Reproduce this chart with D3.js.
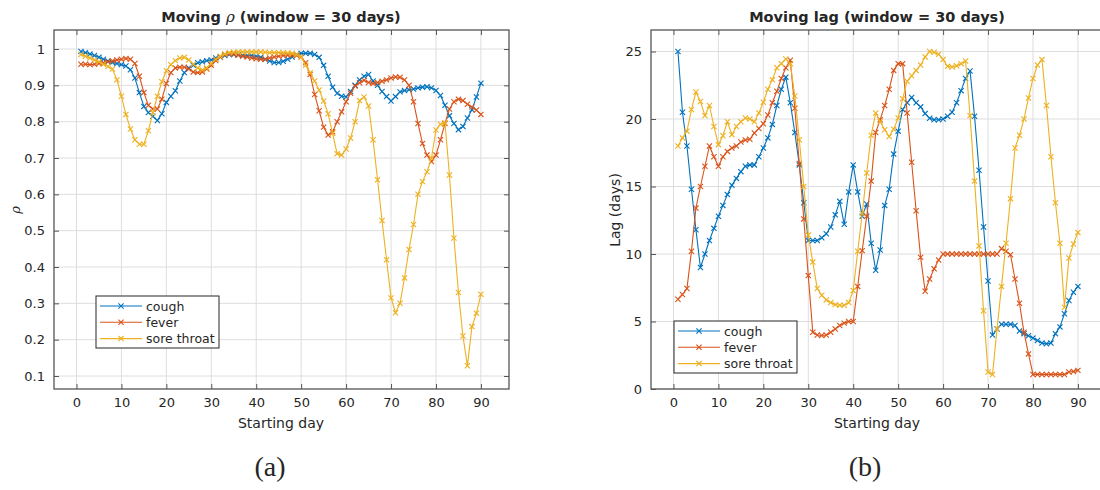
<!DOCTYPE html>
<html>
<head>
<meta charset="utf-8">
<script src="https://cdn.jsdelivr.net/npm/d3@7/dist/d3.min.js"></script>
<style>
  html, body { margin: 0; padding: 0; background: #ffffff; }
  svg { display: block; }
  text { font-family: "DejaVu Sans", sans-serif; fill: #262626; }
</style>
</head>
<body>
<svg id="chart" width="1100" height="490"></svg>
<script>
// ---------------- DATA ----------------
const days = [1,2,3,4,5,6,7,8,9,10,11,12,13,14,15,16,17,18,19,20,21,22,23,24,25,26,27,28,29,30,
  31,32,33,34,35,36,37,38,39,40,41,42,43,44,45,46,47,48,49,50,51,52,53,54,55,56,57,58,59,60,
  61,62,63,64,65,66,67,68,69,70,71,72,73,74,75,76,77,78,79,80,81,82,83,84,85,86,87,88,89,90];

const seriesNames = ["cough", "fever", "sore throat"];

// Moving rho (window = 30 days)
const rhoCough = [0.993,0.990,0.986,0.982,0.977,0.972,0.967,0.963,0.960,0.957,
  0.953,0.943,0.920,0.880,0.842,0.825,0.815,0.803,0.822,0.853,
  0.870,0.885,0.912,0.935,0.948,0.955,0.962,0.965,0.968,0.970,
  0.975,0.978,0.982,0.985,0.985,0.984,0.983,0.982,0.982,0.980,
  0.977,0.972,0.967,0.963,0.963,0.966,0.972,0.978,0.985,0.988,
  0.988,0.988,0.985,0.977,0.955,0.925,0.895,0.878,0.870,0.868,
  0.883,0.900,0.915,0.925,0.930,0.912,0.900,0.883,0.869,0.857,
  0.869,0.882,0.886,0.888,0.890,0.893,0.895,0.896,0.893,0.886,
  0.872,0.845,0.816,0.795,0.778,0.787,0.810,0.833,0.868,0.906];
const rhoFever = [0.958,0.958,0.957,0.958,0.960,0.962,0.965,0.967,0.970,0.972,
  0.974,0.972,0.960,0.925,0.880,0.845,0.835,0.835,0.862,0.905,
  0.935,0.948,0.950,0.950,0.945,0.937,0.935,0.937,0.945,0.955,
  0.968,0.978,0.985,0.987,0.986,0.983,0.980,0.978,0.975,0.973,
  0.972,0.972,0.975,0.978,0.980,0.982,0.983,0.983,0.982,0.978,
  0.962,0.930,0.875,0.830,0.785,0.763,0.772,0.800,0.827,0.855,
  0.878,0.898,0.907,0.914,0.908,0.905,0.908,0.911,0.915,0.920,
  0.923,0.922,0.915,0.900,0.855,0.795,0.740,0.708,0.690,0.708,
  0.750,0.795,0.835,0.855,0.862,0.858,0.848,0.840,0.832,0.820];
const rhoSore = [0.985,0.980,0.975,0.970,0.965,0.958,0.952,0.945,0.915,0.870,
  0.820,0.780,0.750,0.738,0.738,0.775,0.825,0.870,0.910,0.940,
  0.957,0.968,0.975,0.977,0.970,0.958,0.948,0.942,0.948,0.960,
  0.972,0.980,0.986,0.990,0.991,0.992,0.992,0.992,0.992,0.992,
  0.992,0.991,0.990,0.990,0.990,0.990,0.989,0.988,0.985,0.978,
  0.955,0.935,0.912,0.887,0.857,0.822,0.768,0.712,0.708,0.725,
  0.755,0.800,0.858,0.868,0.843,0.750,0.640,0.528,0.420,0.315,
  0.274,0.300,0.370,0.448,0.517,0.600,0.635,0.662,0.700,0.777,
  0.793,0.797,0.653,0.480,0.330,0.210,0.128,0.236,0.273,0.325];

// Moving lag (window = 30 days)
const lagCough = [25.0,20.5,18.0,14.8,11.8,9.0,10.0,11.0,11.9,12.8,
  13.6,14.4,15.1,15.6,16.1,16.5,16.6,16.6,17.2,17.85,
  18.6,19.6,21.0,22.2,23.1,21.2,19.0,16.6,13.8,11.0,
  11.0,11.0,11.2,11.5,12.0,12.9,13.9,12.2,14.6,16.6,
  14.6,12.8,13.7,10.8,8.8,10.3,13.6,14.8,17.4,19.1,
  20.7,21.2,21.6,21.2,20.9,20.4,20.05,19.95,19.95,20.0,
  20.2,20.5,21.2,22.1,23.0,23.55,20.2,16.2,12.0,8.0,
  4.0,4.45,4.8,4.8,4.8,4.7,4.3,4.1,3.95,3.77,
  3.6,3.4,3.35,3.4,4.1,4.6,5.57,6.55,7.17,7.6];
const lagFever = [6.65,7.0,7.44,10.2,13.4,15.0,16.5,18.0,17.2,16.5,
  17.2,17.6,17.85,18.0,18.3,18.45,18.5,18.96,19.3,19.65,
  20.3,21.2,22.05,23.0,23.8,24.35,20.8,16.7,12.6,8.4,
  4.2,4.0,3.96,4.0,4.2,4.45,4.7,4.88,5.0,5.0,
  7.6,10.25,12.8,15.4,19.0,19.95,21.0,22.2,23.6,24.1,
  24.1,20.45,16.8,13.2,9.75,7.24,8.15,8.9,9.56,10.0,
  10.0,10.0,10.0,10.0,10.0,10.0,10.0,10.0,10.0,10.0,
  10.0,10.0,10.4,10.2,9.95,8.15,6.35,4.2,2.6,1.08,
  1.08,1.08,1.08,1.08,1.08,1.08,1.08,1.26,1.3,1.38];
const lagSore = [18.0,18.6,19.1,20.7,22.0,21.3,20.25,21.0,19.45,18.1,
  18.76,19.8,18.84,19.45,19.8,20.07,20.0,19.8,20.45,21.24,
  22.2,22.9,23.8,24.1,24.45,24.1,21.7,18.46,15.0,11.4,
  9.4,7.44,6.95,6.6,6.4,6.25,6.2,6.2,6.4,7.3,
  10.2,13.0,16.0,18.8,20.45,19.8,19.2,18.7,19.25,20.07,
  21.5,22.8,23.2,23.6,24.0,24.6,25.0,24.95,24.8,24.4,
  23.9,23.85,23.95,24.1,24.3,20.25,15.4,10.6,5.8,1.26,
  1.08,4.46,7.6,10.8,14.1,17.85,18.8,20.0,21.56,23.0,
  24.0,24.4,21.0,17.2,13.8,10.8,6.06,9.7,10.74,11.6];

const xTicks = [0,10,20,30,40,50,60,70,80,90];
const rhoTicks = [0.1,0.2,0.3,0.4,0.5,0.6,0.7,0.8,0.9,1];
const rhoTickLabels = ["0.1","0.2","0.3","0.4","0.5","0.6","0.7","0.8","0.9","1"];
const lagTicks = [0,5,10,15,20,25];
const lagTickLabels = ["0","5","10","15","20","25"];

// ---------------- STYLE ----------------
const colors = ["#0072BD", "#D95319", "#EDB120"];
const svg = d3.select("#chart");

function panel(cfg) {
  const g = svg.append("g");
  const x = d3.scaleLinear().domain([-5, 96.25]).range([cfg.left, cfg.left + 455]);
  const y = d3.scaleLinear().domain(cfg.yDomain).range(cfg.yRange);
  const top = 30, bottom = 389, left = cfg.left, right = cfg.left + 455;

  const clipId = "clip" + cfg.id;
  svg.append("clipPath").attr("id", clipId).append("rect")
    .attr("x", left).attr("y", top).attr("width", right - left).attr("height", bottom - top);

  // grid
  const grid = g.append("g").attr("stroke", "#dedede").attr("stroke-width", 1);
  grid.selectAll(".vg").data(xTicks).join("line")
    .attr("x1", d => x(d)).attr("x2", d => x(d)).attr("y1", top).attr("y2", bottom);
  grid.selectAll(".hg").data(cfg.yTicks).join("line")
    .attr("y1", d => y(d)).attr("y2", d => y(d)).attr("x1", left).attr("x2", right);

  // series
  const series = [cfg.data[0], cfg.data[1], cfg.data[2]];
  const line = d3.line().x((d, i) => x(days[i])).y(d => y(d));
  const plot = g.append("g").attr("clip-path", `url(#${clipId})`);
  series.forEach((vals, si) => {
    const sg = plot.append("g");
    sg.append("path").datum(vals).attr("d", line)
      .attr("fill", "none").attr("stroke", colors[si]).attr("stroke-width", 1.1)
      .attr("stroke-linejoin", "round");
    sg.selectAll("path.m").data(vals).join("path").attr("class", "m")
      .attr("d", (d, i) => {
        const cx = x(days[i]), cy = y(d), r = 2.6;
        return `M${cx - r},${cy - r}L${cx + r},${cy + r}M${cx - r},${cy + r}L${cx + r},${cy - r}`;
      })
      .attr("stroke", colors[si]).attr("stroke-width", 1.1).attr("fill", "none");
  });

  // axes (ticks inside, mirrored)
  const axCol = "#555555";
  const xb = d3.axisBottom(x).tickValues(xTicks).tickSize(-5).tickPadding(9).tickFormat(d3.format("d"));
  const gx = g.append("g").attr("transform", `translate(0,${bottom})`).call(xb);
  const xt = d3.axisTop(x).tickValues(xTicks).tickSize(-5).tickFormat("");
  const gxt = g.append("g").attr("transform", `translate(0,${top})`).call(xt);
  const yl = d3.axisLeft(y).tickValues(cfg.yTicks).tickSize(-5).tickPadding(9)
    .tickFormat((d, i) => cfg.yTickLabels[i]);
  const gy = g.append("g").attr("transform", `translate(${left},0)`).call(yl);
  const yr = d3.axisRight(y).tickValues(cfg.yTicks).tickSize(-5).tickFormat("");
  const gyr = g.append("g").attr("transform", `translate(${right},0)`).call(yr);
  [gx, gxt, gy, gyr].forEach(a => {
    a.select(".domain").remove();
    a.selectAll(".tick line").attr("stroke", axCol).attr("stroke-width", 1);
    a.selectAll("text").attr("font-size", 13).attr("font-family", "DejaVu Sans").attr("fill", "#333");
  });
  // box
  g.append("rect").attr("x", left).attr("y", top).attr("width", right - left).attr("height", bottom - top)
    .attr("fill", "none").attr("stroke", axCol).attr("stroke-width", 1.3);

  // title
  const t = g.append("text").attr("x", cfg.titleX).attr("y", 22).attr("text-anchor", "middle")
    .attr("font-weight", "bold").attr("font-size", 14.5).attr("fill", "#111");
  cfg.title.forEach(part => {
    const ts = t.append("tspan").text(part.s);
    if (part.greek) ts.attr("font-style", "italic").attr("font-weight", "normal")
      .style("font-family", "'DejaVu Serif', serif").attr("font-size", 15);
  });
  // x label
  g.append("text").attr("x", cfg.titleX).attr("y", 428).attr("text-anchor", "middle")
    .attr("font-size", 14).attr("fill", "#333").text("Starting day");
  // y label
  const ylab = g.append("text").attr("transform", `translate(${cfg.ylabelX},210) rotate(-90)`)
    .attr("text-anchor", "middle").attr("font-size", cfg.ylabelSize).attr("fill", "#333").text(cfg.ylabel);
  if (cfg.ylabelItalic) ylab.attr("font-style", "italic").style("font-family", "'DejaVu Serif', serif");
  // caption
  g.append("text").attr("x", cfg.capX).attr("y", 476).attr("text-anchor", "middle")
    .attr("font-size", 28).attr("fill", "#111")
    .style("font-family", "'Liberation Serif', serif").text(cfg.caption);

  // legend
  const L = cfg.legend;
  const lg = g.append("g");
  lg.append("rect").attr("x", L.x).attr("y", L.y).attr("width", 123).attr("height", 52)
    .attr("fill", "#fff").attr("stroke", "#262626").attr("stroke-width", 1);
  seriesNames.forEach((nm, i) => {
    const yy = L.y + 10 + i * 16.3;
    lg.append("line").attr("x1", L.x + 4).attr("x2", L.x + 46).attr("y1", yy).attr("y2", yy)
      .attr("stroke", colors[i]).attr("stroke-width", 1.1);
    const cx = L.x + 25, r = 2.6;
    lg.append("path").attr("d", `M${cx - r},${yy - r}L${cx + r},${yy + r}M${cx - r},${yy + r}L${cx + r},${yy - r}`)
      .attr("stroke", colors[i]).attr("stroke-width", 1.1);
    lg.append("text").attr("x", L.x + 50).attr("y", yy + 4.5).attr("font-size", 12.5).attr("fill", "#222").text(nm);
  });
}

panel({
  id: "a", left: 54,
  yDomain: [0.1, 1], yRange: [376, 49],
  yTicks: rhoTicks, yTickLabels: rhoTickLabels,
  data: [rhoCough, rhoFever, rhoSore],
  title: [{s: "Moving "}, {s: "\u03C1", greek: true}, {s: " (window = 30 days)"}], titleX: 281,
  ylabel: "\u03C1", ylabelX: 20, ylabelSize: 13, ylabelItalic: true,
  caption: "(a)", capX: 270,
  legend: { x: 96, y: 296 }
});

panel({
  id: "b", left: 651,
  yDomain: [0, 25], yRange: [389, 51.5],
  yTicks: lagTicks, yTickLabels: lagTickLabels,
  data: [lagCough, lagFever, lagSore],
  title: [{s: "Moving lag (window = 30 days)"}], titleX: 877,
  ylabel: "Lag (days)", ylabelX: 620, ylabelSize: 14, ylabelItalic: false,
  caption: "(b)", capX: 865,
  legend: { x: 674, y: 321 }
});
</script>
</body>
</html>
